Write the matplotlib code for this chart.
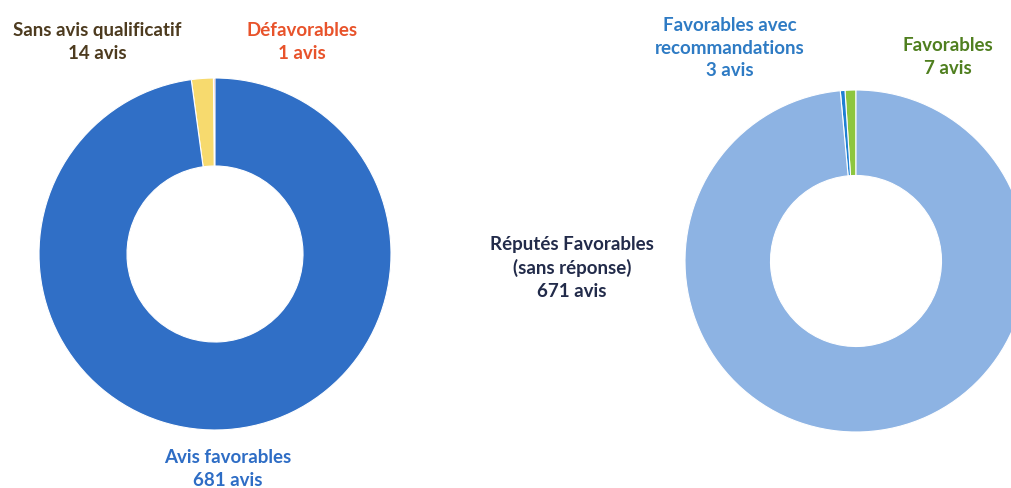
import matplotlib
matplotlib.use('Agg')
import matplotlib.pyplot as plt

plt.rcParams['font.family'] = ['Lato', 'DejaVu Sans']

# left donut: avis rendus
left_labels = ['Défavorables', 'Sans avis qualificatif', 'Avis favorables']
left_values = [1, 14, 681]
left_colors = ['#E8532B', '#F7DA6E', '#306FC6']

# right donut: avis favorables detail
right_labels = ['Favorables', 'Favorables avec recommandations', 'Réputés Favorables (sans réponse)']
right_values = [7, 3, 671]
right_colors = ['#8DC63F', '#1F80D2', '#8DB3E3']

W, H = 1011, 488
fig = plt.figure(figsize=(W / 100, H / 100), dpi=100)
ax = fig.add_axes([0, 0, 1, 1])

r_left, r_right = 176, 171
ax.pie(left_values, colors=left_colors, startangle=90, counterclock=True,
       center=(215, H - 254), radius=r_left,
       wedgeprops=dict(width=0.5 * r_left, edgecolor='white', linewidth=0.8))
ax.pie(right_values, colors=right_colors, startangle=90, counterclock=True,
       center=(856, H - 261), radius=r_right,
       wedgeprops=dict(width=0.5 * r_right, edgecolor='white', linewidth=0.8))

ax.set_xlim(0, W)
ax.set_ylim(0, H)
ax.set_aspect('equal')
ax.axis('off')

fs = 13.5
ls = 1.42
ax.text(97, H - 42, 'Sans avis qualificatif\n%d avis' % left_values[1], color='#4D3B1F',
        fontsize=fs, fontweight='bold', ha='center', va='center', linespacing=ls)
ax.text(302, H - 42, 'Défavorables\n%d avis' % left_values[0], color='#E8532B',
        fontsize=fs, fontweight='bold', ha='center', va='center', linespacing=ls)
ax.text(228, H - 469, 'Avis favorables\n%d avis' % left_values[2], color='#2E6DC5',
        fontsize=fs, fontweight='bold', ha='center', va='center', linespacing=ls)

ax.text(730, H - 48, 'Favorables avec\nrecommandations\n%d avis' % right_values[1], color='#2E7BC4',
        fontsize=fs, fontweight='bold', ha='center', va='center', linespacing=ls)
ax.text(948, H - 57, 'Favorables\n%d avis' % right_values[0], color='#4F7F1F',
        fontsize=fs, fontweight='bold', ha='center', va='center', linespacing=ls)
ax.text(572, H - 268, 'Réputés Favorables\n(sans réponse)\n%d avis' % right_values[2], color='#222B4A',
        fontsize=fs, fontweight='bold', ha='center', va='center', linespacing=ls)

fig.savefig('out.png', dpi=100)
